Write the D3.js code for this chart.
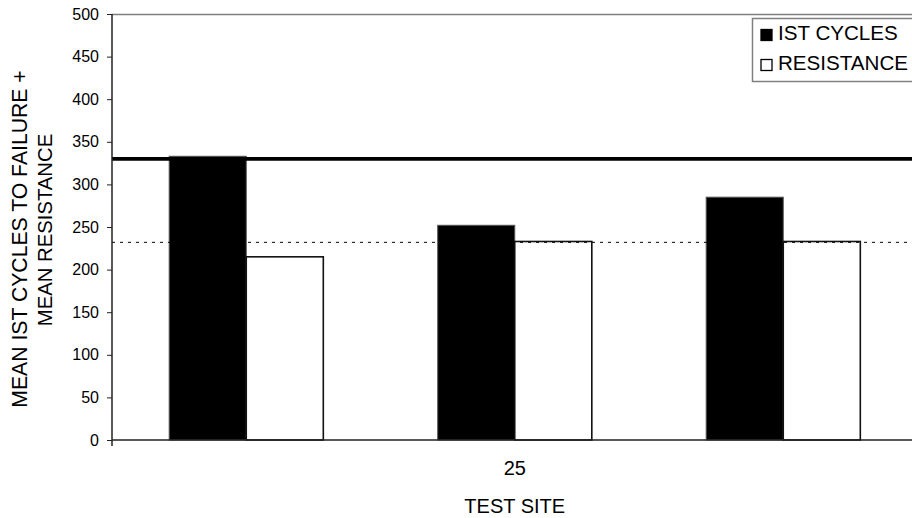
<!DOCTYPE html>
<html>
<head>
<meta charset="utf-8">
<script src="https://cdn.jsdelivr.net/npm/d3@7"></script>
<style>
  html, body { margin: 0; padding: 0; background: #fff; }
  svg { display: block; font-family: "Liberation Sans", Arial, sans-serif; }
</style>
</head>
<body>
<svg id="chart" width="912" height="518"></svg>
<script>
// ---- data ----
const categories = ["site1", "25", "site3"];
const categoryLabels = ["", "25", ""];
const seriesNames = ["IST CYCLES", "RESISTANCE"];
const istCycles = [333, 252, 285];
const resistance = [215, 233, 233];
const istReference = 330;        // solid reference line
const resistanceReference = 232; // dotted reference line
const yTicks = [0, 50, 100, 150, 200, 250, 300, 350, 400, 450, 500];

(function () {
// ---- layout ----
const svg = d3.select("#chart");
const pLeft = 112, pRight = 917.5, pTop = 14, pBottom = 440;

const y = d3.scaleLinear().domain([0, 500]).range([pBottom, pTop]);
const x0 = d3.scaleBand().domain(categories).range([pLeft, pRight])
  .paddingInner(0.426).paddingOuter(0.213);
const x1 = d3.scaleBand().domain(seriesNames).range([0, x0.bandwidth()]);

const fills = { "IST CYCLES": "#000000", "RESISTANCE": "#ffffff" };
const strokes = { "IST CYCLES": "#555555", "RESISTANCE": "#111111" };

// plot border (top)
svg.append("line").attr("x1", pLeft).attr("x2", 912).attr("y1", pTop + 0.5).attr("y2", pTop + 0.5)
  .attr("stroke", "#808080").attr("stroke-width", 1.5);

// bars
const rows = categories.map((c, i) => ({ cat: c, values: [
  { name: "IST CYCLES", v: istCycles[i] },
  { name: "RESISTANCE", v: resistance[i] } ] }));

const g = svg.append("g");
rows.forEach(r => {
  g.selectAll(null).data(r.values).enter().append("rect")
    .attr("x", d => x0(r.cat) + x1(d.name))
    .attr("y", d => y(d.v))
    .attr("width", x1.bandwidth())
    .attr("height", d => y(0) - y(d.v))
    .attr("fill", d => fills[d.name])
    .attr("stroke", d => strokes[d.name])
    .attr("stroke-width", d => d.name === "RESISTANCE" ? 1.6 : 1);
});

// reference lines
svg.append("line").attr("x1", pLeft).attr("x2", 912)
  .attr("y1", y(istReference)).attr("y2", y(istReference))
  .attr("stroke", "#000").attr("stroke-width", 3.6);
svg.append("line").attr("x1", pLeft).attr("x2", 912)
  .attr("y1", y(resistanceReference)).attr("y2", y(resistanceReference))
  .attr("stroke", "#000").attr("stroke-width", 1).attr("stroke-dasharray", "3,5");

// y axis
const yAxis = d3.axisLeft(y).tickValues(yTicks).tickSize(5).tickPadding(8);
const ya = svg.append("g").attr("transform", `translate(${pLeft},0)`).call(yAxis);
ya.select(".domain").remove();
ya.selectAll(".tick line").attr("stroke", "#222");
ya.selectAll(".tick text").attr("font-size", 16).attr("fill", "#000")
  .attr("font-family", "'Liberation Sans', Arial, sans-serif");
svg.append("line").attr("x1", pLeft).attr("x2", pLeft).attr("y1", pTop).attr("y2", pBottom + 6)
  .attr("stroke", "#222").attr("stroke-width", 1.5);

// x axis
const xAxis = d3.axisBottom(x0).tickSize(0).tickPadding(21)
  .tickFormat((d, i) => categoryLabels[i]);
const xa = svg.append("g").attr("transform", `translate(0,${pBottom})`).call(xAxis);
xa.select(".domain").remove();
xa.selectAll(".tick text").attr("font-size", 20).attr("fill", "#000")
  .attr("font-family", "'Liberation Sans', Arial, sans-serif");
svg.append("line").attr("x1", pLeft).attr("x2", 912).attr("y1", pBottom).attr("y2", pBottom)
  .attr("stroke", "#222").attr("stroke-width", 1.5);

// axis titles
svg.append("text").attr("x", x0("25") + x0.bandwidth() / 2).attr("y", 512.5)
  .attr("text-anchor", "middle").attr("font-size", 20).text("TEST SITE");
svg.append("text").attr("transform", "translate(27,239) rotate(-90)")
  .attr("text-anchor", "middle").attr("font-size", 21.2).text("MEAN IST CYCLES TO FAILURE +");
svg.append("text").attr("transform", "translate(52,230) rotate(-90)")
  .attr("text-anchor", "middle").attr("font-size", 20.3).text("MEAN RESISTANCE");

// legend
const lg = svg.append("g").attr("transform", "translate(752,18)");
lg.append("rect").attr("x", 0.5).attr("y", 0.5).attr("width", 200).attr("height", 63)
  .attr("fill", "#fff").attr("stroke", "#808080").attr("stroke-width", 1.5);
seriesNames.forEach((n, i) => {
  lg.append("rect").attr("x", 9).attr("y", 11.5 + i * 30).attr("width", 11).attr("height", 11)
    .attr("fill", fills[n]).attr("stroke", "#000").attr("stroke-width", 1.3);
  lg.append("text").attr("x", 26).attr("y", 21.5 + i * 30).attr("font-size", 20.6).text(n);
});
})();
</script>
</body>
</html>
